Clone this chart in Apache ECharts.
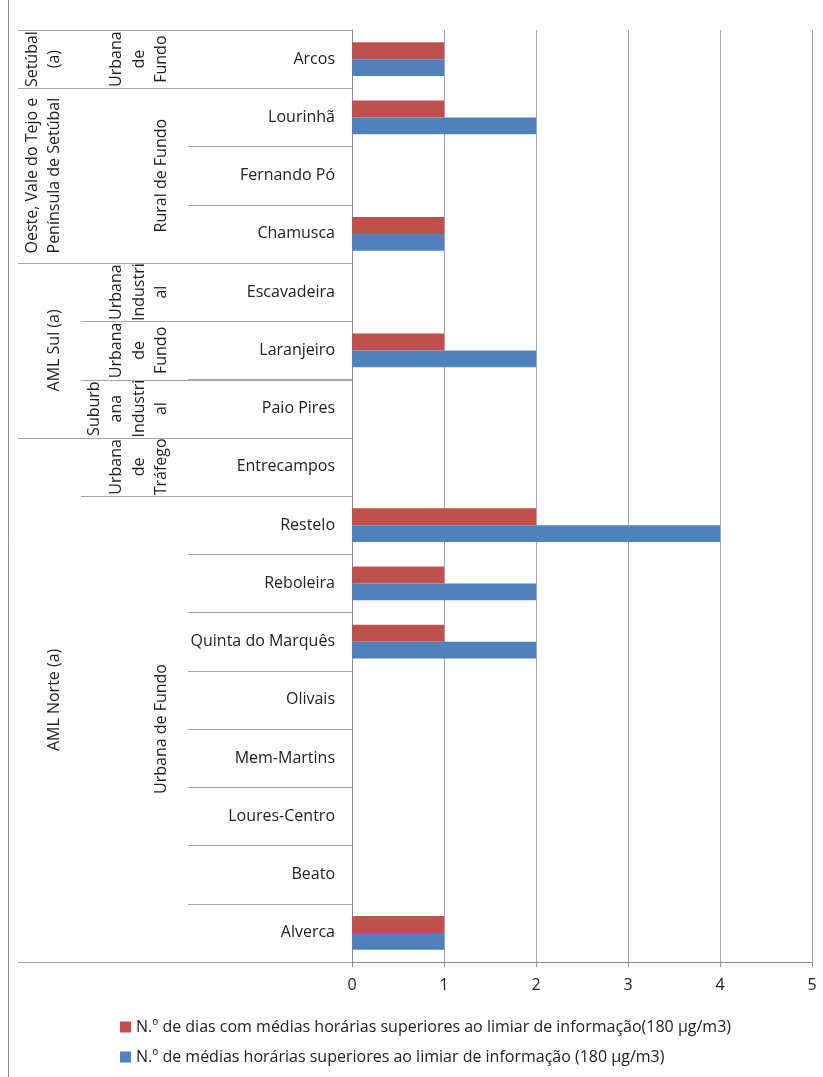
<!DOCTYPE html>
<html>
<head>
<meta charset="utf-8">
<script src="https://cdn.jsdelivr.net/npm/echarts@6/dist/echarts.min.js"></script>
<style>
html,body{margin:0;padding:0;background:#fff;}
#chart{width:823px;height:1077px;}
</style>
</head>
<body>
<div id="chart"></div>
<script>
// ---- data ----
const stations = ['Arcos','Lourinhã','Fernando Pó','Chamusca','Escavadeira','Laranjeiro','Paio Pires','Entrecampos','Restelo','Reboleira','Quinta do Marquês','Olivais','Mem-Martins','Loures-Centro','Beato','Alverca'];
const diasValues   = [1,1,0,1,0,1,0,0,2,1,1,0,0,0,0,1];
const mediasValues = [1,2,0,1,0,2,0,0,4,2,2,0,0,0,0,1];
const seriesNames = ['N.º de dias com médias horárias superiores ao limiar de informação(180 µg/m3)',
                     'N.º de médias horárias superiores ao limiar de informação (180 µg/m3)'];
const typeLabels = ['Urbana\nde\nFundo','Rural de Fundo','Urbana\nIndustri\nal','Urbana\nde\nFundo','Suburb\nana\nIndustri\nal','Urbana\nde\nTráfego','Urbana de Fundo'];
const typeSpans  = [1,3,1,1,1,1,8];
const regionLabels = ['Setúbal\n(a)','Oeste, Vale do Tejo e\nPenínsula de Setúbal','AML Sul (a)','AML Norte (a)'];
const regionSpans  = [1,3,3,9];

const FONT = 'Open Sans';
const FS = 16;
const chart = echarts.init(document.getElementById('chart'), null, {renderer:'canvas'});
const option = {
  animation:false,
  backgroundColor:'#fff',
  textStyle:{fontFamily:FONT},
  grid:{left:352,right:11,top:30,bottom:115,containLabel:false},
  legend:{
    orient:'vertical', left:115, top:1014, itemWidth:11, itemHeight:11, itemGap:14,
    icon:'rect', data:seriesNames,
    textStyle:{fontFamily:FONT,fontSize:FS,color:'#222'}
  },
  xAxis:{
    type:'value', min:0, max:5, interval:1,
    axisLine:{show:true,lineStyle:{color:'#8c8c8c'}},
    axisTick:{show:true,length:5,lineStyle:{color:'#8c8c8c'}},
    axisLabel:{fontFamily:FONT,fontSize:FS,color:'#222',margin:15},
    splitLine:{show:true,lineStyle:{color:'#a6a6a6'}}
  },
  yAxis:{
    type:'category', inverse:true, data:stations,
    axisLine:{show:true,lineStyle:{color:'#8c8c8c'}},
    axisTick:{show:true,length:164,lineStyle:{color:'#a6a6a6'}},
    axisLabel:{fontFamily:FONT,fontSize:FS,color:'#222',margin:17}
  },
  series:[
    {name:seriesNames[0],type:'bar',data:diasValues,itemStyle:{color:'#C0504D'},barGap:'0%',barCategoryGap:'42%'},
    {name:seriesNames[1],type:'bar',data:mediasValues,itemStyle:{color:'#4F81BD'},barGap:'0%',barCategoryGap:'42%'}
  ]
};
chart.setOption(option);

// ---- multi-level category labels & separators, positioned from the axis ----
const centers = stations.map(s => chart.convertToPixel({yAxisIndex:0}, s));
const band = Math.abs(centers[1]-centers[0]);
const topY = centers[0]-band/2;
const bounds = [];
for (let i=0;i<=stations.length;i++) bounds.push(topY + i*band);

const COL_L2 = 81, COL_L3 = 18;
const plotLeft = 352;
function boundarySet(spans){ const s=new Set([0]); let c=0; spans.forEach(n=>{c+=n;s.add(c);}); return s; }
const regionB = boundarySet(regionSpans), typeB = boundarySet(typeSpans);

const graphics = [];
for (let i=0;i<=stations.length;i++){
  let x1 = null;
  if (regionB.has(i)) x1 = COL_L3; else if (typeB.has(i)) x1 = COL_L2;
  if (x1 !== null) {
    const y = Math.round(bounds[i])+0.5;
    graphics.push({type:'line',silent:true,shape:{x1:x1,y1:y,x2:plotLeft,y2:y},style:{stroke:'#a6a6a6',lineWidth:1}});
  }
}
function addGroupTexts(labels, spans, anchorX){
  let c=0;
  labels.forEach((lab,k)=>{
    const y0=bounds[c], y1=bounds[c+spans[k]];
    c+=spans[k];
    graphics.push({type:'text',silent:true,x:anchorX,y:(y0+y1)/2,rotation:Math.PI/2,
      style:{text:lab,fontFamily:FONT,fontSize:FS,fill:'#222',align:'center',verticalAlign:'bottom',lineHeight:22.5}});
  });
}
addGroupTexts(typeLabels, typeSpans, 173);
addGroupTexts(regionLabels, regionSpans, 66);
// chart-area frame (left edge)
graphics.push({type:'line',silent:true,shape:{x1:8.5,y1:0,x2:8.5,y2:1077},style:{stroke:'#8c8c8c',lineWidth:1}});
chart.setOption({graphic:graphics});
</script>
</body>
</html>
